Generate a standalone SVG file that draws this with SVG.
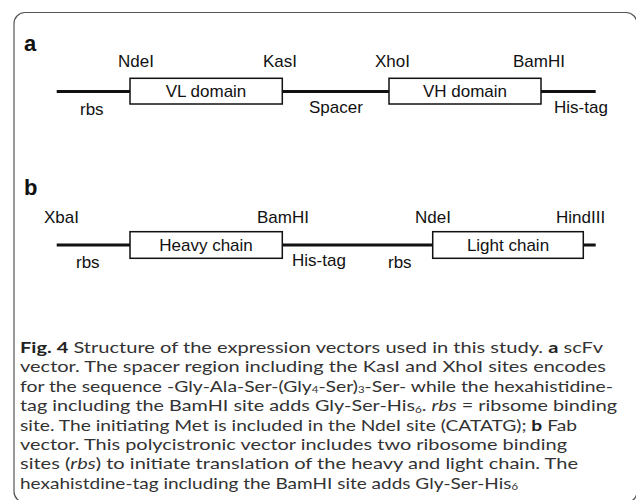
<svg xmlns="http://www.w3.org/2000/svg" width="636" height="500" viewBox="0 0 636 500">
<style>
.lbl{font-family:"Liberation Sans",Arial,sans-serif;font-size:17px;fill:#111}
.mid{text-anchor:middle}
.pan{font-family:"Liberation Sans",Arial,sans-serif;font-size:22px;font-weight:bold;fill:#111}
.box{fill:#fff;stroke:#111;stroke-width:1.5}
.dna{stroke:#111;stroke-width:3;fill:none}
.cap{font-family:Lato,"Open Sans",sans-serif;font-size:16px;fill:#333}
.sub{font-size:9.5px}
.b{font-weight:bold;fill:#222}
.i{font-style:italic}
</style>
<rect x="14" y="12.5" width="623" height="490" rx="11" fill="none" stroke="#555" stroke-width="1.2"/>
<g id="connectors">
<line class="dna" x1="56.7" y1="91.5" x2="595.7" y2="91.5"/>
<line class="dna" x1="56.7" y1="245" x2="595.7" y2="245"/>
</g>
<g id="panel-a">
<text class="pan" x="24" y="51">a</text>
<text class="lbl" x="118" y="67">NdeI</text>
<text class="lbl" x="263" y="67">KasI</text>
<text class="lbl" x="375" y="67">XhoI</text>
<text class="lbl" x="513" y="67">BamHI</text>
<text class="lbl" x="80" y="115">rbs</text>
<text class="lbl" x="309" y="113">Spacer</text>
<text class="lbl" x="554" y="113">His-tag</text>
</g>
<g id="vl-domain">
<rect class="box" x="130" y="78.3" width="152.3" height="25.7"/>
<text class="lbl mid" x="206" y="97">VL domain</text>
</g>
<g id="vh-domain">
<rect class="box" x="389" y="78.3" width="152" height="25.7"/>
<text class="lbl mid" x="465" y="97">VH domain</text>
</g>
<g id="panel-b">
<text class="pan" x="24" y="195">b</text>
<text class="lbl" x="44" y="222.7">XbaI</text>
<text class="lbl" x="257" y="222.7">BamHI</text>
<text class="lbl" x="415" y="222.7">NdeI</text>
<text class="lbl" x="556" y="222.7">HindIII</text>
<text class="lbl" x="76" y="268">rbs</text>
<text class="lbl" x="292" y="266">His-tag</text>
<text class="lbl" x="388" y="268">rbs</text>
</g>
<g id="heavy-chain">
<rect class="box" x="130" y="231.7" width="152.3" height="26.6"/>
<text class="lbl mid" x="206" y="251">Heavy chain</text>
</g>
<g id="light-chain">
<rect class="box" x="432.7" y="231.7" width="150.6" height="26.6"/>
<text class="lbl mid" x="508" y="251">Light chain</text>
</g>
<g id="caption">
<text class="cap" x="20" y="353" textLength="583" lengthAdjust="spacingAndGlyphs"><tspan class="b">Fig. 4</tspan>  Structure of the expression vectors used in this study. <tspan class="b">a</tspan> scFv</text>
<text class="cap" x="20" y="372.4" textLength="586" lengthAdjust="spacingAndGlyphs">vector. The spacer region including the KasI and XhoI sites encodes</text>
<text class="cap" x="20" y="391.8" textLength="593" lengthAdjust="spacingAndGlyphs">for the sequence -Gly-Ala-Ser-(Gly<tspan class="sub" dy="1.5">4</tspan><tspan dy="-1.5">-Ser)</tspan><tspan class="sub" dy="1.5">3</tspan><tspan dy="-1.5">-Ser- while the hexahistidine-</tspan></text>
<text class="cap" x="20" y="411.2" textLength="597" lengthAdjust="spacingAndGlyphs">tag including the BamHI site adds Gly-Ser-His<tspan class="sub" dy="1.5">6</tspan><tspan dy="-1.5">. </tspan><tspan class="i">rbs</tspan> = ribsome binding</text>
<text class="cap" x="20" y="430.6" textLength="557" lengthAdjust="spacingAndGlyphs">site. The initiating Met is included in the NdeI site (CATATG); <tspan class="b">b</tspan> Fab</text>
<text class="cap" x="20" y="450" textLength="547" lengthAdjust="spacingAndGlyphs">vector. This polycistronic vector includes two ribosome binding</text>
<text class="cap" x="20" y="469.4" textLength="558" lengthAdjust="spacingAndGlyphs">sites (<tspan class="i">rbs</tspan>) to initiate translation of the heavy and light chain. The</text>
<text class="cap" x="20" y="488.8" textLength="498" lengthAdjust="spacingAndGlyphs">hexahistdine-tag including the BamHI site adds Gly-Ser-His<tspan class="sub" dy="1.5">6</tspan></text>
</g>
</svg>
